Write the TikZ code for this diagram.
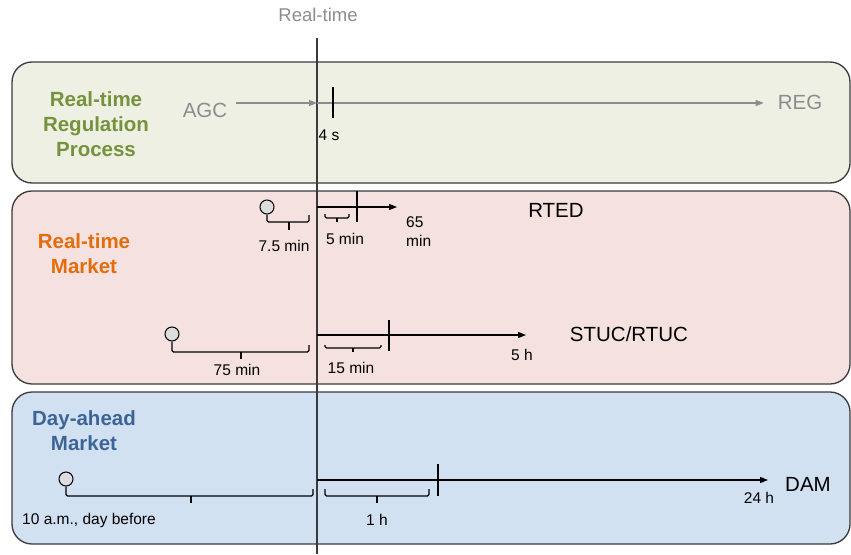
\documentclass[tikz,border=0pt]{standalone}
\usepackage{fontspec}
\setmainfont{Liberation Sans}
\usetikzlibrary{arrows.meta}

\definecolor{regfill}{HTML}{EDF0E3}
\definecolor{rtmfill}{HTML}{F4E1E0}
\definecolor{damfill}{HTML}{D1E1F2}
\definecolor{regtext}{HTML}{76923C}
\definecolor{rtmtext}{HTML}{E46C0A}
\definecolor{damtext}{HTML}{3C6496}
\definecolor{graytext}{HTML}{8C8C8C}
\definecolor{laneline}{HTML}{3A3A3A}
\definecolor{markfill}{HTML}{DDDDDD}

\tikzset{
  lane/.style={draw=laneline, line width=1.3pt, rounded corners=20pt},
  title/.style={font=\bfseries\fontsize{20.5}{25}\selectfont, align=center, inner sep=0pt},
  big/.style={font=\fontsize{20.5}{24}\selectfont, inner sep=0pt},
  small/.style={font=\fontsize{15.5}{19}\selectfont, inner sep=0pt},
  nowline/.style={draw=laneline, line width=1.4pt},
  timeline/.style={draw=black, line width=1.1pt},
  arrowline/.style={timeline, -{Triangle[length=8pt,width=6pt]}},
  grayarrow/.style={draw=graytext, line width=1.1pt, -{Triangle[length=8pt,width=6pt]}},
  marker/.style={circle, draw=black, fill=markfill, line width=1pt, minimum size=14pt, inner sep=0pt},
  brace/.style={draw=black, line width=1.25pt, rounded corners=1.5pt}
}

\begin{document}
\begin{tikzpicture}[x=1pt,y=-1pt]
  % Fix the page size
  \useasboundingbox (0,0) rectangle (851,554);

  % Draw the three lanes
  \draw[lane, fill=regfill] (12,62) rectangle (850,183);
  \draw[lane, fill=rtmfill] (12,191) rectangle (850,384);
  \draw[lane, fill=damfill] (12,392) rectangle (850,544);

  % Lane titles
  \node[title, text=regtext] (regtitle) at (96,124) {Real-time\\Regulation\\Process};
  \node[title, text=rtmtext] (rtmtitle) at (84,254) {Real-time\\Market};
  \node[title, text=damtext] (damtitle) at (84,431) {Day-ahead\\Market};

  % Real-time line
  \node[font=\fontsize{18.5}{22}\selectfont, text=graytext, inner sep=0pt] (now) at (318,15) {Real-time};
  \coordinate (nowtop) at (317,38);
  \coordinate (nowbot) at (317,554);
  \draw[nowline] (nowtop) -- (nowbot);

  % Regulation: AGC -> REG
  \node[big, text=graytext] (agc) at (205,110) {AGC};
  \node[big, text=graytext] (reg) at (800,102) {REG};
  \coordinate (agcnow) at (317,103);
  \draw[grayarrow] ([xshift=9pt]agc.east |- agcnow) -- (agcnow);
  \draw[grayarrow] (agcnow) -- ([xshift=-14pt]reg.west |- agcnow);
  \coordinate (agctop) at (333,87);
  \coordinate (agcbot) at (333,118);
  \draw[timeline] (agctop) -- (agcbot);
  \node[small] (agcstep) at (329,135) {4 s};

  % Real-time market: RTED
  \node[marker] (rtedgate) at (267,207) {};
  \coordinate (rtednow) at (317,207);
  \coordinate (rtedend) at (397,207);
  \draw[arrowline] (rtednow) -- (rtedend);
  \draw[timeline] (357,191) -- (357,222);
  \draw[brace] (rtedgate.south) |- (309,222) -- (309,215);
  \draw[brace] (289,222) -- (289,230);
  \node[small] (rtedlead) at (284,246) {7.5 min};
  \draw[brace] (325,214) |- (349,218) -- (349,214);
  \draw[brace] (337,218) -- (337,222);
  \node[small] (rtedstep) at (345,239) {5 min};
  \node[small, anchor=west, align=left] (rtedhor) at (406,232) {65\\min};
  \node[big] (rted) at (556,210) {RTED};

  % Real-time market: STUC/RTUC
  \node[marker] (stucgate) at (172,334) {};
  \coordinate (stucnow) at (317,335);
  \coordinate (stucend) at (526,335);
  \draw[arrowline] (stucnow) -- (stucend);
  \draw[timeline] (389,320) -- (389,351);
  \draw[brace] (stucgate.south) |- (309,352) -- (309,345);
  \draw[brace] (241,352) -- (241,359);
  \node[small] (stuclead) at (237,370) {75 min};
  \draw[brace] (325,345) |- (381,348) -- (381,345);
  \draw[brace] (353,348) -- (353,352);
  \node[small] (stucstep) at (351,368) {15 min};
  \node[small] (stuchor) at (522,355) {5 h};
  \node[big] (stuc) at (629,334) {STUC/RTUC};

  % Day-ahead market: DAM
  \node[marker] (damgate) at (66,479) {};
  \coordinate (damnow) at (317,480);
  \coordinate (damend) at (768,480);
  \draw[arrowline] (damnow) -- (damend);
  \draw[timeline] (438,464) -- (438,496);
  \draw[brace] (damgate.south) |- (313,496) -- (313,489);
  \draw[brace] (191,496) -- (191,503);
  \node[small] (damlead) at (89,520) {10 a.m., day before};
  \draw[brace] (325,489) |- (429,496) -- (429,489);
  \draw[brace] (377,496) -- (377,503);
  \node[small] (damstep) at (377,520) {1 h};
  \node[small] (damhor) at (759,498) {24 h};
  \node[big] (dam) at (808,484) {DAM};
\end{tikzpicture}
\end{document}
